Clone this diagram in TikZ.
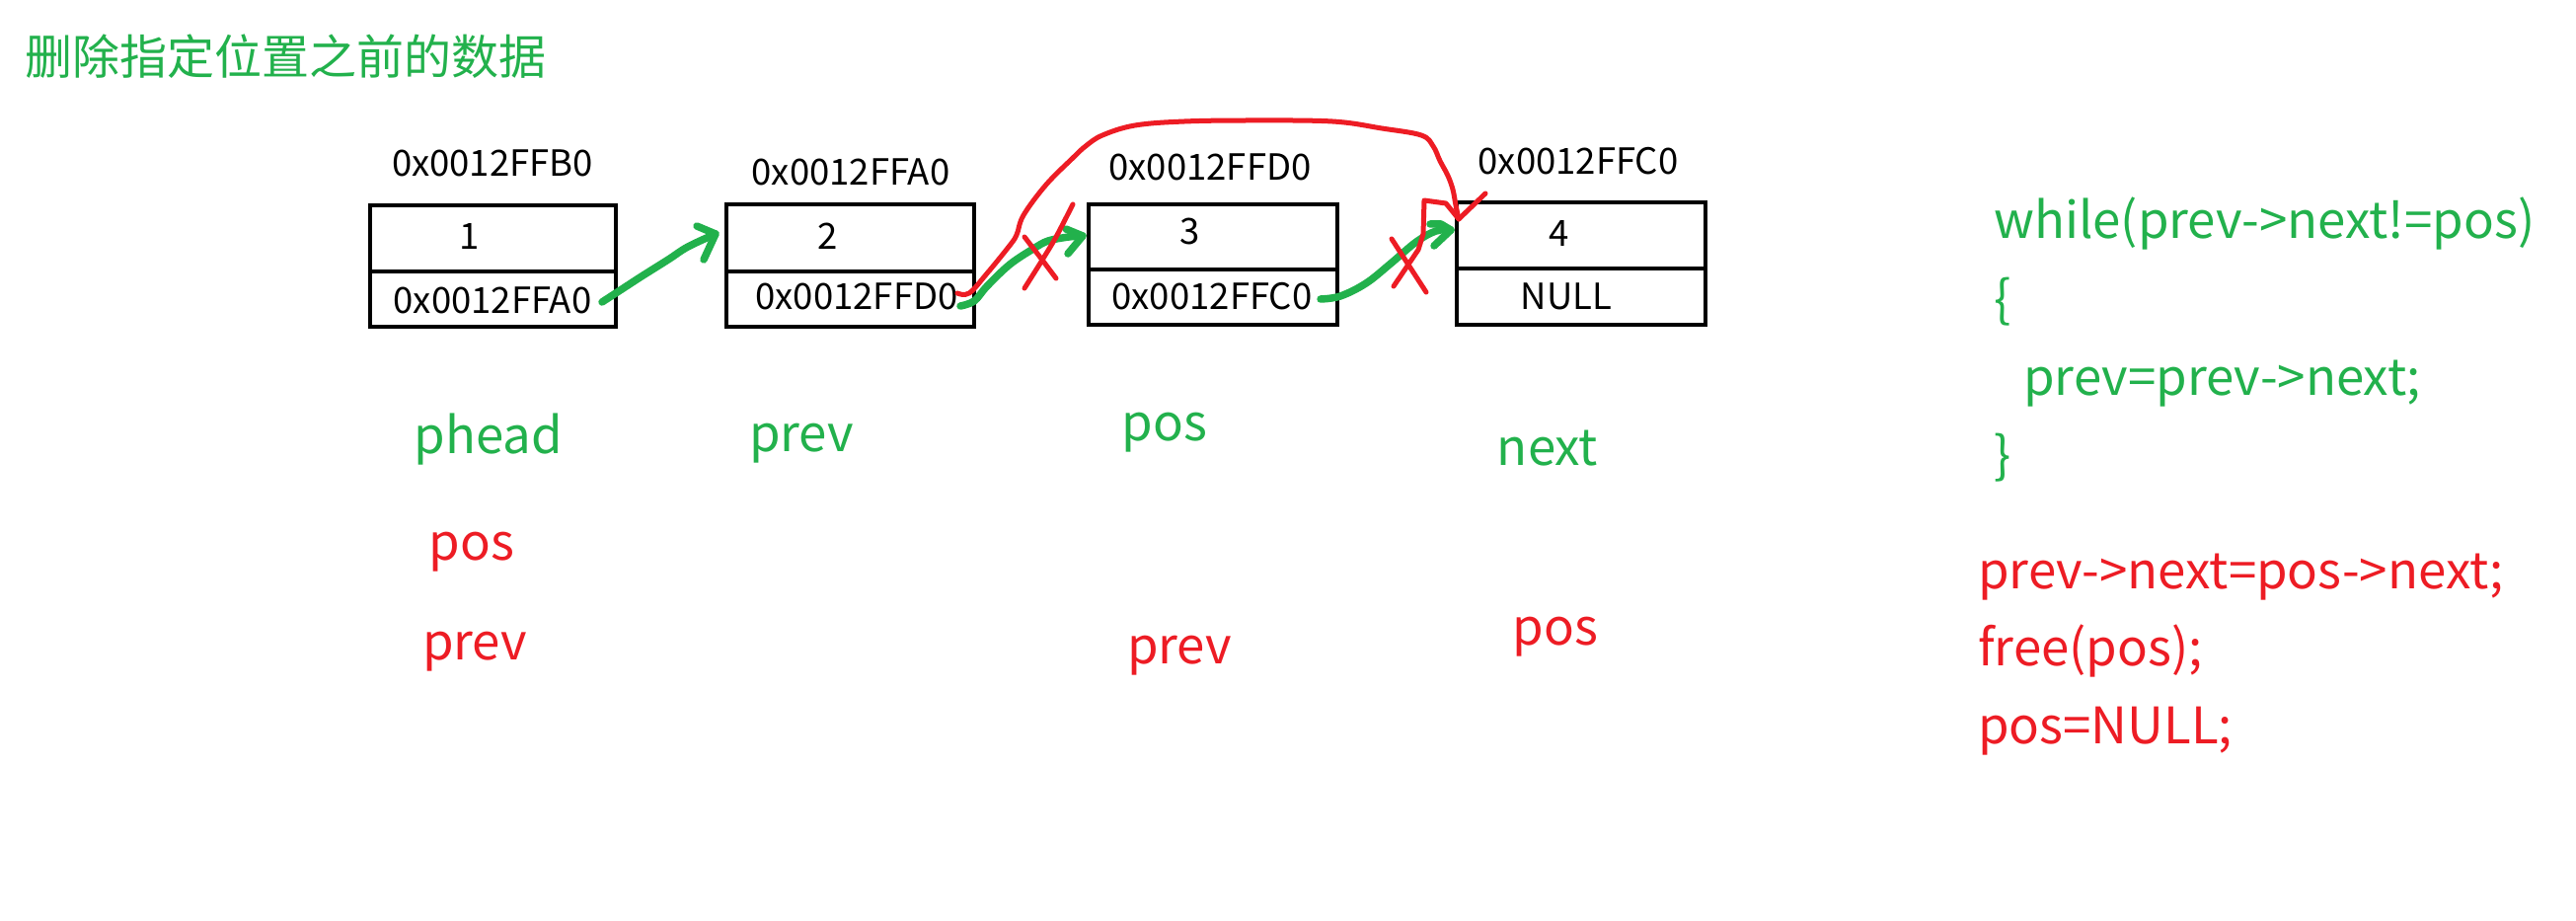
\documentclass[tikz,border=0pt]{standalone}
\usepackage{fontspec}
\setmainfont{Noto Sans CJK SC}
\definecolor{pgreen}{RGB}{34,177,76}
\definecolor{pred}{RGB}{237,28,36}
\begin{document}
\begin{tikzpicture}[x=1pt,y=-1pt,
  cell/.style={draw=black, line width=4.8pt, inner sep=0pt, outer sep=0pt},
  addr/.style={anchor=base, inner sep=0pt, font=\fontsize{36.5}{40}\selectfont},
  lbl/.style={anchor=base, inner sep=0pt, font=\fontsize{51}{60}\selectfont},
  code/.style={anchor=base west, inner sep=0pt, font=\fontsize{51}{60}\selectfont},
  gpen/.style={draw=pgreen, line width=7.5pt, line cap=round, line join=round},
  rpen/.style={draw=pred, line width=5pt, line cap=round, line join=round}]
\useasboundingbox[fill=white] (0,0) rectangle (2610,933);

% title
\node[anchor=base west, inner sep=0pt, text=pgreen, font=\fontsize{48}{52}\selectfont] (title) at (25,76) {删除指定位置之前的数据};

% boxes
\node[cell, minimum width=249pt, minimum height=67pt] (b1v) at (499.5,241.5) {};
\node[cell, minimum width=249pt, minimum height=56pt] (b1p) at (499.5,303) {};
\node[cell, minimum width=251pt, minimum height=68pt] (b2v) at (861.5,241) {};
\node[cell, minimum width=251pt, minimum height=56pt] (b2p) at (861.5,303) {};
\node[cell, minimum width=252pt, minimum height=66pt] (b3v) at (1229,240) {};
\node[cell, minimum width=252pt, minimum height=56pt] (b3p) at (1229,301) {};
\node[cell, minimum width=252pt, minimum height=67pt] (b4v) at (1602,238.5) {};
\node[cell, minimum width=252pt, minimum height=57pt] (b4p) at (1602,300.5) {};

% addresses above
\node[addr] (a1) at (499,179) {0x0012FFB0};
\node[addr] (a2) at (862,188) {0x0012FFA0};
\node[addr] (a3) at (1226,183) {0x0012FFD0};
\node[addr] (a4) at (1599,177) {0x0012FFC0};

% values
\node[addr] (v1) at (476,253) {1};
\node[addr] (v2) at (839,253) {2};
\node[addr] (v3) at (1206,248) {3};
\node[addr] (v4) at (1580,250) {4};

% next pointers
\node[addr] (p1) at (499,318) {0x0012FFA0};
\node[addr] (p2) at (868,313) {0x0012FFD0};
\node[addr] (p3) at (1228,313) {0x0012FFC0};
\node[addr] (p4) at (1587,313) {NULL};

% labels
\node[lbl, text=pgreen] (lphead) at (495,459) {phead};
\node[lbl, text=pgreen] (lprev) at (812,457) {prev};
\node[lbl, text=pgreen] (lpos) at (1180,446) {pos};
\node[lbl, text=pgreen] (lnext) at (1568,471) {next};
\node[lbl, text=pred] (rpos1) at (478,567) {pos};
\node[lbl, text=pred] (rprev1) at (481,668) {prev};
\node[lbl, text=pred] (rprev2) at (1195,672) {prev};
\node[lbl, text=pred] (rpos2) at (1576,653) {pos};

% code
\node[code, text=pgreen] (c1) at (2020,242) {while(prev->next!=pos)};
\node[code, text=pgreen] (c2) at (2020,321) {\{};
\node[code, text=pgreen] (c3) at (2050,400) {prev=prev->next;};
\node[code, text=pgreen] (c4) at (2020,479) {\}};
\node[code, text=pred] (c5) at (2004,596) {prev->next=pos->next;};
\node[code, text=pred] (c6) at (2004,674) {free(pos);};
\node[code, text=pred] (c7) at (2004,753) {pos=NULL;};

% connector end points
\coordinate (g1s) at (610,306);
\coordinate (g1t) at (725,237);
\coordinate (g2s) at (973,310);
\coordinate (g2t) at (1097,239);
\coordinate (g3s) at (1338,303);
\coordinate (g3t) at (1470,233);
\coordinate (rs) at (970,297);
\coordinate (rt) at (1478,222);

% green arrows
\draw[gpen] plot[smooth, tension=0.6] coordinates {(g1s) (630,293) (650,280) (677,263) (697,250) (g1t)};
\draw[gpen] (706,229) -- (g1t) -- (713,263);
\draw[gpen] plot[smooth, tension=0.6] coordinates {(g2s) (987,305) (1000,290) (1023,268) (1047,252) (1062,244) (1083,240) (g2t)};
\draw[gpen] (1080,232) -- (g2t) -- (1082,257);
\draw[gpen] plot[smooth, tension=0.6] coordinates {(g3s) (1358,300) (1384,287) (1409,267) (1435,245) (1455,234) (g3t)};
\draw[gpen] (1449,227) -- (1460,227) -- (g3t) -- (1453,249);

% red re-link curve
\draw[rpen] plot[smooth, tension=0.6] coordinates {(rs) (982,297) (1000,277) (1022,250) (1030,238) (1037,218) (1060,187) (1087,160) (1100,148) (1117,137) (1150,127) (1200,123) (1267,122) (1350,123) (1400,130) (1440,137) (1452,148) (1459,163) (1467,178) (1472,192) (1475,208) (rt)};
\draw[rpen] (1412,290) -- (1437,253) -- (1442,237) -- (1443,203) -- (1465,206) -- (rt) -- (1505,196);
\draw[rpen] (1410,242) -- (1445,296);

% red cross between 2 and 3
\draw[rpen] plot[smooth] coordinates {(1087,207) (1070,240) (1055,265) (1038,292)};
\draw[rpen] (1038,240) -- (1055,262) -- (1070,282);
\end{tikzpicture}
\end{document}
